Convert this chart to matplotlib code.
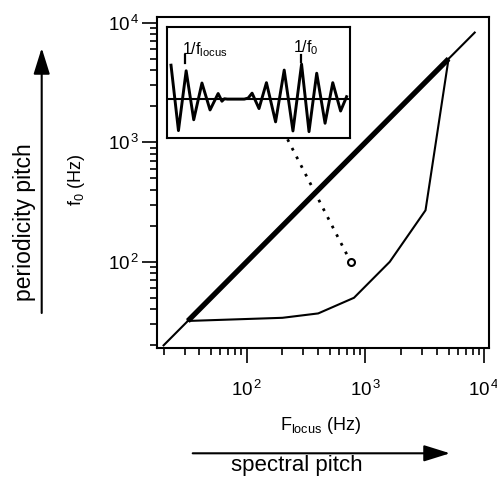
import matplotlib
matplotlib.use("Agg")
from matplotlib import pyplot as plt
from matplotlib.patches import FancyArrowPatch
from matplotlib.ticker import FuncFormatter, LogLocator
import numpy as np

plt.rcParams["font.family"] = ["Liberation Sans", "DejaVu Sans"]
plt.rcParams["mathtext.fontset"] = "custom"
plt.rcParams["mathtext.rm"] = "Liberation Sans"
plt.rcParams["mathtext.it"] = "Liberation Sans:italic"

# diagonal f0 = Flocus and the thick "harmonic" segment
diag_f = [20, 8300]
thick_f = [32, 5000]

# boundary of the region (Flocus, f0)
edge_flocus = [32, 200, 400, 800, 1600, 3200, 5000]
edge_f0 = [32, 34, 37, 50, 100, 270, 5000]

# example stimulus
stim_flocus = 750
stim_f0 = 100
link_start = (221, 1060)

# waveform in the inset (time in ms, amplitude)
wave_t = [0.00, 0.57, 1.16, 1.74, 2.37, 2.99, 3.61, 3.90, 4.09, 4.32, 5.61,
          5.91, 6.21, 6.74, 7.31, 8.01, 8.67, 9.34, 10.00, 10.57, 11.16,
          11.80, 12.39, 12.99, 13.45]
wave_a = [0.97, -0.90, 0.81, -0.59, 0.46, -0.31, 0.16, -0.06, 0.01, 0.00, 0.00,
          0.03, 0.17, -0.27, 0.47, -0.65, 0.83, -0.91, 1.00, -0.93, 0.74,
          -0.69, 0.47, -0.34, 0.07]
t_locus = 1.10
t_f0 = 9.95

W, H = 497, 480


def fx(x):
    return x / W


def fy(y):
    return 1 - y / H


def pow10(v, pos):
    e = int(round(np.log10(v)))
    return r"$\mathdefault{10^{\,%d}}$" % e


fig = plt.figure(figsize=(W / 100, H / 100), dpi=100)
ax = fig.add_axes([fx(157), fy(348), (489 - 157) / W, (348 - 17) / H])

ax.set_xscale("log")
ax.set_yscale("log")
ax.set_xlim(17.6, 10950)
ax.set_ylim(19.0, 11200)
for a in (ax.xaxis, ax.yaxis):
    a.set_major_locator(LogLocator(base=10))
    a.set_major_formatter(FuncFormatter(pow10))

ax.plot(diag_f, diag_f, color="black", lw=1.5)
ax.plot(edge_flocus, edge_f0, color="black", lw=1.5, solid_joinstyle="round")
ax.plot(thick_f, thick_f, color="black", lw=3.8, solid_capstyle="butt")
ax.plot([link_start[0], stim_flocus], [link_start[1], stim_f0], color="black",
        lw=2, ls=(0, (1, 2.5)))
ax.plot(stim_flocus, stim_f0, "o", mfc="white", mec="black", ms=5, mew=1.5)

for s in ax.spines.values():
    s.set_linewidth(1.5)
ax.tick_params(which="major", direction="out", length=11, width=1.2, labelsize=13.5)
ax.tick_params(which="minor", direction="out", length=5, width=1.2)
ax.tick_params(axis="x", which="major", pad=12)
ax.tick_params(axis="y", which="major", pad=1.5)

# inset with the waveform
ins = fig.add_axes([fx(166.7), fy(138.3), (350 - 166.7) / W, (138.3 - 26.7) / H])
ins.set_xlim(-0.33, 13.71)
ins.set_ylim(-1.12, 2.07)
ins.set_xticks([])
ins.set_yticks([])
for s in ins.spines.values():
    s.set_linewidth(1.5)
ins.axhline(0, color="black", lw=1.5)
ins.plot(wave_t, wave_a, color="black", lw=2.1, solid_joinstyle="round")
ins.plot([t_locus, t_locus], [1.03, 1.25], color="black", lw=1.6)
ins.plot([t_f0, t_f0], [1.05, 1.25], color="black", lw=1.6)
ins.text(0.83, 1.29, r"1/f$_{\mathrm{locus}}$", fontsize=11.5, ha="left", va="baseline")
ins.text(9.36, 1.33, r"1/f$_{\mathrm{0}}$", fontsize=11.5, ha="left", va="baseline")

# axis labels
fig.text(fx(320.5), fy(426), r"F$_{\mathrm{locus}}$ (Hz)", fontsize=13,
         ha="center", va="center")
fig.text(fx(76.7), fy(180), r"f$_{\mathrm{0}}$ (Hz)", fontsize=13,
         ha="center", va="center", rotation=90)

# pitch arrows
fig.text(fx(297), fy(466), "spectral pitch", fontsize=16, ha="center", va="center")
fig.text(fx(25), fy(222.5), "periodicity pitch", fontsize=16.5, ha="center",
         va="center", rotation=90)
arrow_style = "-|>,head_length=1.6,head_width=0.5"
fig.add_artist(FancyArrowPatch((fx(192.7), fy(453.3)), (fx(450), fy(453.3)),
                               transform=fig.transFigure, arrowstyle=arrow_style,
                               mutation_scale=10, lw=1.5, color="black",
                               shrinkA=0, shrinkB=0))
fig.add_artist(FancyArrowPatch((fx(41.7), fy(313)), (fx(41.7), fy(48)),
                               transform=fig.transFigure, arrowstyle=arrow_style,
                               mutation_scale=10, lw=1.5, color="black",
                               shrinkA=0, shrinkB=0))

fig.savefig("out.png", dpi=100)
